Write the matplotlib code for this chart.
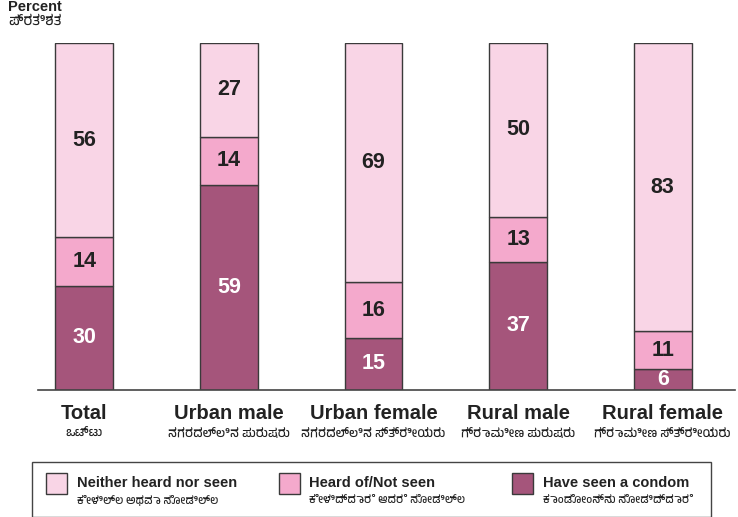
import matplotlib
matplotlib.use("Agg")
import matplotlib.pyplot as plt
from matplotlib import font_manager
from matplotlib.patches import Rectangle
import numpy as np

categories = ["Total", "Urban male", "Urban female", "Rural male", "Rural female"]
categories_kn = ["ಒಟ್ಟು", "ನಗರದಲ್ಲಿನ ಪುರುಷರು", "ನಗರದಲ್ಲಿನ ಸ್ತ್ರೀಯರು", "ಗ್ರಾಮೀಣ ಪುರುಷರು", "ಗ್ರಾಮೀಣ ಸ್ತ್ರೀಯರು"]
seen = [30, 59, 15, 37, 6]
heard = [14, 14, 16, 13, 11]
neither = [56, 27, 69, 50, 83]
series_names = ["Neither heard nor seen", "Heard of/Not seen", "Have seen a condom"]
series_names_kn = ["ಕೇಳಿಲ್ಲ ಅಥವಾ ನೋಡಿಲ್ಲ", "ಕೇಳಿದ್ದಾರೆ ಆದರೆ ನೋಡಿಲ್ಲ", "ಕಾಂಡೋಂನ್ನು ನೋಡಿದ್ದಾರೆ"]
y_title = "Percent"
y_title_kn = "ಪ್ರತಿಶತ"

c_neither = "#F9D5E6"
c_heard = "#F4A9CC"
c_seen = "#A5557B"
edge = "#3a3a3a"

kn_fams = []
for f in font_manager.fontManager.ttflist:
    n = f.name.lower()
    if "kannada" in n or "tunga" in n or "lohit" in n:
        kn_fams.append(f.name)
kn_family = list(dict.fromkeys(kn_fams)) + ["DejaVu Sans"]
lat = ["Liberation Sans", "DejaVu Sans"]

fig = plt.figure(figsize=(7.38, 5.17), dpi=100)
W, H = 738, 517
ax = fig.add_axes([38 / W, (H - 390) / H, (735 - 38) / W, 347 / H])
x = np.arange(len(categories))
w = 0.40
ax.bar(x, seen, w, color=c_seen, edgecolor=edge, linewidth=1.0, zorder=2)
ax.bar(x, heard, w, bottom=seen, color=c_heard, edgecolor=edge, linewidth=1.0, zorder=2)
b2 = np.array(seen) + np.array(heard)
ax.bar(x, neither, w, bottom=b2, color=c_neither, edgecolor=edge, linewidth=1.0, zorder=2)

num_fs = 15.5
for i in range(len(x)):
    ax.text(x[i], seen[i] / 2, str(seen[i]), ha="center", va="center", color="white",
            fontsize=num_fs, fontweight="bold", family=lat, zorder=3)
    ax.text(x[i], seen[i] + heard[i] / 2, str(heard[i]), ha="center", va="center", color="#222222",
            fontsize=num_fs, fontweight="bold", family=lat, zorder=3)
    ax.text(x[i], b2[i] + neither[i] / 2, str(neither[i]), ha="center", va="center", color="#222222",
            fontsize=num_fs, fontweight="bold", family=lat, zorder=3)

ax.set_xlim(-0.32, 4.50)
ax.set_ylim(0, 100)
for s in ["top", "right", "left"]:
    ax.spines[s].set_visible(False)
ax.spines["bottom"].set_color("#444444")
ax.spines["bottom"].set_linewidth(1.2)
ax.set_yticks([])
ax.set_xticks([])

for i in range(len(x)):
    ax.annotate(categories[i], xy=(x[i], 0), xycoords="data", xytext=(0, -17),
                textcoords="offset points", ha="center", va="center",
                fontsize=14.5, fontweight="bold", family=lat, color="#222222")
    ax.annotate(categories_kn[i], xy=(x[i], 0), xycoords="data", xytext=(0, -31),
                textcoords="offset points", ha="center", va="center",
                fontsize=9, family=kn_family, color="#222222")

fig.text(8 / W, 1 - 7 / H, y_title, ha="left", va="center", fontsize=10.5,
         fontweight="bold", family=lat, color="#222222")
fig.text(8 / W, 1 - 21 / H, y_title_kn, ha="left", va="center", fontsize=10,
         fontweight="bold", family=kn_family, color="#222222")

fig.patches.append(Rectangle((32 / W, (H - 517) / H), (711 - 32) / W, (517 - 462) / H,
                             transform=fig.transFigure, fill=False, edgecolor="#444444",
                             linewidth=1.0))
leg_colors = [c_neither, c_heard, c_seen]
patch_x = [46, 279, 512]
text_x = [77, 309, 543]
for k in range(3):
    fig.patches.append(Rectangle((patch_x[k] / W, (H - 494) / H), 21 / W, 21 / H,
                                 transform=fig.transFigure, facecolor=leg_colors[k],
                                 edgecolor=edge, linewidth=1.0))
    fig.text(text_x[k] / W, 1 - 483 / H, series_names[k], ha="left", va="center",
             fontsize=10.5, fontweight="bold", family=lat, color="#222222")
    fig.text(text_x[k] / W, 1 - 500 / H, series_names_kn[k], ha="left", va="center",
             fontsize=8, family=kn_family, color="#222222")

fig.savefig("out.png", dpi=100)
